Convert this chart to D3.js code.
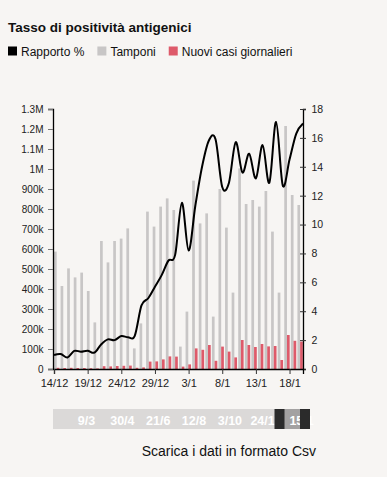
<!DOCTYPE html>
<html>
<head>
<meta charset="utf-8">
<script src="https://cdn.jsdelivr.net/npm/d3@7"></script>
<style>
  body { margin: 0; background: #f7f5f3; font-family: "Liberation Sans", Arial, sans-serif; }
  svg { display: block; }
  .axis text { fill: #222; }
</style>
</head>
<body>
<script>
// giorni mostrati nel grafico
let giorni = ["2021-12-14","2021-12-15","2021-12-16","2021-12-17","2021-12-18","2021-12-19","2021-12-20",
  "2021-12-21","2021-12-22","2021-12-23","2021-12-24","2021-12-25","2021-12-26","2021-12-27","2021-12-28",
  "2021-12-29","2021-12-30","2021-12-31","2022-01-01","2022-01-02","2022-01-03","2022-01-04","2022-01-05",
  "2022-01-06","2022-01-07","2022-01-08","2022-01-09","2022-01-10","2022-01-11","2022-01-12","2022-01-13",
  "2022-01-14","2022-01-15","2022-01-16","2022-01-17","2022-01-18","2022-01-19","2022-01-20"];

let tamponi = [587000,415000,503000,458000,482000,390000,233000,640000,533000,640000,652000,703000,103000,
  228000,787000,712000,812000,853000,795000,112000,287000,942000,728000,778000,262000,900000,707000,382000,
  1003000,825000,845000,812000,890000,687000,382000,1215000,870000,820000];

let nuoviCasi = [6000,5000,6000,5000,5000,4000,3000,14000,13000,15000,16000,17000,6000,8000,37000,38000,
  48000,63000,62000,12000,23000,103000,96000,120000,41000,112000,87000,58000,145000,120000,110000,125000,
  113000,115000,45000,170000,141000,137000];

let rapporto = [0.97,1.04,0.8,1.25,1.2,1.27,1.13,1.7,2.05,2.0,2.28,2.2,2.3,4.4,4.9,5.7,6.5,7.5,7.9,11.5,
  8.2,11.3,14.0,15.8,15.9,12.6,12.9,15.7,13.6,14.9,13.2,15.5,12.9,17.1,12.7,14.5,16.3,17.0];

// tick dell'asse x
let xTicks = ["2021-12-14","2021-12-19","2021-12-24","2021-12-29","2022-01-03","2022-01-08","2022-01-13","2022-01-18"];

// barra di navigazione (intero periodo)
let navPeriodo = ["2021-01-15","2022-01-20"];
let navTicks = ["2021-03-09","2021-04-30","2021-06-21","2021-08-12","2021-10-03","2021-11-24","2022-01-15"];

let legenda = [
  {label: "Rapporto %", color: "#000"},
  {label: "Tamponi", color: "#c8c6c6"},
  {label: "Nuovi casi giornalieri", color: "#de5a6a"}
];

let parse = d3.timeParse("%Y-%m-%d");
let dates = giorni.map(parse);

let width = 387, height = 477;
let mLeft = 54, mRight = 303, mTop = 109, mBottom = 369;

let svg = d3.select("body").append("svg")
  .attr("width", width)
  .attr("height", height);

// titolo
svg.append("text")
  .attr("x", 8).attr("y", 32)
  .style("font-size", "13.5px")
  .style("font-weight", "bold")
  .style("fill", "#111")
  .text("Tasso di positività antigenici");

// legenda
let lx = 8;
for (let item of legenda) {
  svg.append("rect")
    .attr("x", lx).attr("y", 46.5)
    .attr("width", 9).attr("height", 9)
    .attr("fill", item.color);
  let t = svg.append("text")
    .attr("x", lx + 13).attr("y", 55.5)
    .style("font-size", "12px")
    .style("fill", "#111")
    .text(item.label);
  lx = lx + 13 + t.node().getComputedTextLength() + 13;
}

// scale
let x = d3.scaleTime()
  .domain(d3.extent(dates))
  .range([mLeft, mRight]);

let xBand = d3.scaleBand()
  .domain(giorni)
  .range([mLeft, mRight + 1]);

let xSub = d3.scaleBand()
  .domain(["tamponi", "casi"])
  .range([0, 5.4]);

let yLeft = d3.scaleLinear()
  .domain([0, 1300000])
  .range([mBottom, mTop]);

let yRight = d3.scaleLinear()
  .domain([0, 18])
  .range([mBottom, mTop]);

// barre tamponi
svg.append("g").selectAll("rect")
  .data(tamponi)
  .join("rect")
  .attr("x", (d, i) => xBand(giorni[i]) + xSub("tamponi"))
  .attr("width", xSub.bandwidth())
  .attr("y", d => yLeft(d))
  .attr("height", d => mBottom - yLeft(d))
  .attr("fill", legenda[1].color);

// barre nuovi casi
svg.append("g").selectAll("rect")
  .data(nuoviCasi)
  .join("rect")
  .attr("x", (d, i) => xBand(giorni[i]) + xSub("casi"))
  .attr("width", xSub.bandwidth())
  .attr("y", d => yLeft(d))
  .attr("height", d => mBottom - yLeft(d))
  .attr("fill", legenda[2].color);

// linea rapporto
let line = d3.line()
  .x((d, i) => x(dates[i]))
  .y(d => yRight(d))
  .curve(d3.curveCardinal);

svg.append("path")
  .datum(rapporto)
  .attr("d", line)
  .attr("fill", "none")
  .attr("stroke", "#000")
  .attr("stroke-width", 2);

// assi
let gLeft = svg.append("g")
  .attr("class", "axis")
  .attr("transform", `translate(${mLeft - 1},0)`)
  .call(d3.axisLeft(yLeft)
    .tickValues(d3.range(0, 1300001, 100000))
    .tickFormat(d3.format("~s"))
    .tickSize(5).tickPadding(4.5));
gLeft.selectAll(".tick line").attr("stroke", "#777");
gLeft.select(".domain").attr("stroke", "#000").attr("stroke-width", 1.3);
gLeft.selectAll("text").style("font-size", "10px").style("font-family", "Liberation Sans");

let gRight = svg.append("g")
  .attr("class", "axis")
  .attr("transform", `translate(${mRight},0)`)
  .call(d3.axisRight(yRight)
    .tickValues(d3.range(0, 19, 2))
    .tickSize(3).tickPadding(5.5));
gRight.selectAll(".tick line").attr("x1", -3).attr("stroke", "#333");
gRight.select(".domain").attr("stroke", "#000").attr("stroke-width", 1.3);
gRight.selectAll("text").style("font-size", "10.5px").style("font-family", "Liberation Sans");

let gBottom = svg.append("g")
  .attr("class", "axis")
  .attr("transform", `translate(0,${mBottom})`)
  .call(d3.axisBottom(x)
    .tickValues(xTicks.map(parse))
    .tickFormat(d3.timeFormat("%-d/%-m"))
    .tickSize(5).tickPadding(5));
gBottom.selectAll(".tick line").attr("stroke", "#333");
gBottom.select(".domain").attr("stroke", "#000").attr("stroke-width", 1.3);
gBottom.selectAll("text").style("font-size", "11px").style("font-family", "Liberation Sans");

// navigatore
let navX = d3.scaleTime()
  .domain(navPeriodo.map(parse))
  .range([50, 305]);

let nav = svg.append("g");
nav.append("rect")
  .attr("x", 53).attr("y", 409)
  .attr("width", 257).attr("height", 20)
  .attr("fill", "#dbd9d8");

let sel0 = navX(dates[0]), sel1 = navX(dates[dates.length - 1]);
nav.append("rect")
  .attr("x", sel0).attr("y", 409)
  .attr("width", sel1 - sel0).attr("height", 20)
  .attr("fill", "#a3a1a1");

nav.selectAll("text")
  .data(navTicks)
  .join("text")
  .attr("x", d => navX(parse(d)))
  .attr("y", 424.5)
  .attr("text-anchor", "middle")
  .style("font-size", "12.5px")
  .style("font-weight", "bold")
  .style("fill", "#fff")
  .text(d => d3.timeFormat("%-d/%-m")(parse(d)));

nav.selectAll(".handle")
  .data([sel0, sel1])
  .join("rect")
  .attr("class", "handle")
  .attr("x", d => d - 5).attr("y", 409)
  .attr("width", 10).attr("height", 20)
  .attr("fill", "#2b2b2b");

// link csv
svg.append("text")
  .attr("x", 316).attr("y", 456)
  .attr("text-anchor", "end")
  .style("font-size", "14px")
  .style("fill", "#111")
  .text("Scarica i dati in formato Csv");
</script>
</body>
</html>
